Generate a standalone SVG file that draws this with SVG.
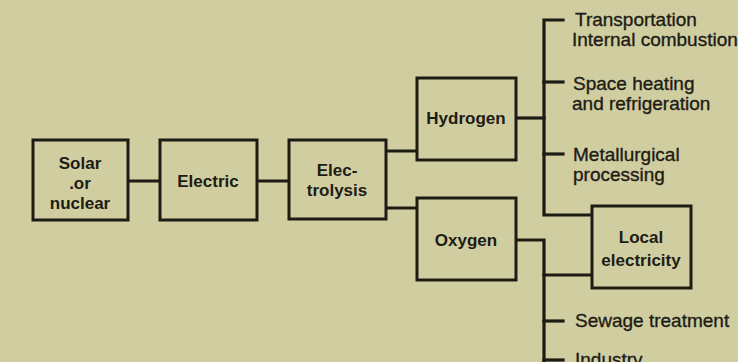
<svg xmlns="http://www.w3.org/2000/svg" width="738" height="362" viewBox="0 0 738 362">
<style>
.bg{fill:#d0cea1}
.box{fill:#d0cea1;stroke:#1d1c14;stroke-width:3}
.ln{fill:none;stroke:#1d1c14;stroke-width:3.2;stroke-linecap:square;stroke-linejoin:miter}
.nt{font-family:"Liberation Sans",Arial,sans-serif;font-weight:bold;font-size:17px;fill:#1d1c14;text-anchor:middle}
.lt{font-family:"Liberation Sans",Arial,sans-serif;font-size:19px;fill:#1d1c14;stroke:#1d1c14;stroke-width:0.35}
</style>
<rect class="bg" x="0" y="0" width="738" height="362"/>
<g id="connectors">
<path class="ln" d="M128 181H160"/>
<path class="ln" d="M257 181H289"/>
<path class="ln" d="M386 151H417"/>
<path class="ln" d="M386 208H417"/>
<path class="ln" d="M516 118H544"/>
<path class="ln" d="M563 20H544V215H592"/>
<path class="ln" d="M544 82H563"/>
<path class="ln" d="M544 154H563"/>
<path class="ln" d="M516 240H544V362"/>
<path class="ln" d="M544 275H592"/>
<path class="ln" d="M544 321H563"/>
<path class="ln" d="M544 360H563"/>
</g>
<g id="solar">
<rect class="box" x="33" y="140" width="95" height="80"/>
<text class="nt" x="80" y="169">Solar</text>
<text class="nt" x="80" y="189">.or</text>
<text class="nt" x="80" y="209">nuclear</text>
</g>
<g id="electric">
<rect class="box" x="160" y="140" width="97" height="80"/>
<text class="nt" x="208" y="187">Electric</text>
</g>
<g id="electrolysis">
<rect class="box" x="289" y="140" width="97" height="79"/>
<text class="nt" x="337" y="176">Elec-</text>
<text class="nt" x="337" y="196">trolysis</text>
</g>
<g id="hydrogen">
<rect class="box" x="417" y="78" width="99" height="82"/>
<text class="nt" x="466" y="124">Hydrogen</text>
</g>
<g id="oxygen">
<rect class="box" x="417" y="198" width="99" height="82"/>
<text class="nt" x="466" y="246">Oxygen</text>
</g>
<g id="local-electricity">
<rect class="box" x="592" y="206" width="99" height="82"/>
<text class="nt" x="641" y="243">Local</text>
<text class="nt" x="641" y="266">electricity</text>
</g>
<g id="transportation">
<text class="lt" x="575" y="26">Transportation</text>
<text class="lt" x="572" y="46">Internal combustion</text>
</g>
<g id="space-heating">
<text class="lt" x="573" y="90">Space heating</text>
<text class="lt" x="572" y="110">and refrigeration</text>
</g>
<g id="metallurgical">
<text class="lt" x="573" y="161">Metallurgical</text>
<text class="lt" x="573" y="181">processing</text>
</g>
<g id="sewage">
<text class="lt" x="575" y="327">Sewage treatment</text>
</g>
<g id="industry">
<text class="lt" x="575" y="366">Industry</text>
</g>
</svg>
